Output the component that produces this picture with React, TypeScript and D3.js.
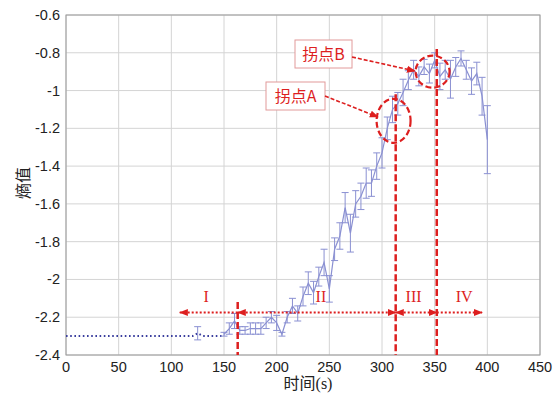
import React from "react";
import * as d3 from "d3";

// ---- data ----
const baseT = [0, 120, 125, 130, 150];
const baseV = [-2.3, -2.3, -2.285, -2.3, -2.3];
const baseErr = [0, 0, 0.035, 0, 0];

const times = [150, 155, 160, 165, 170, 175, 180, 185, 190, 195, 200, 205, 210, 215, 220, 225, 230, 235, 240, 245, 250, 255, 260, 265, 270, 275, 280, 285, 290, 295, 300, 305, 310, 315, 320, 325, 330, 335, 340, 345, 350, 355, 360, 365, 370, 375, 380, 385, 390, 395, 400];
const entropy = [-2.29, -2.26, -2.22, -2.27, -2.27, -2.26, -2.26, -2.26, -2.23, -2.2, -2.23, -2.29, -2.2, -2.14, -2.18, -2.09, -2.02, -2.07, -1.985, -1.91, -2.05, -1.84, -1.77, -1.62, -1.755, -1.6, -1.56, -1.49, -1.49, -1.4, -1.33, -1.2, -1.1, -1.07, -1.01, -0.945, -0.89, -0.925, -0.875, -0.91, -0.84, -0.925, -0.89, -0.94, -0.875, -0.83, -0.89, -0.95, -0.91, -1.03, -1.26];
const errs = [0.01, 0.03, 0.04, 0.02, 0.02, 0.03, 0.03, 0.03, 0.03, 0.03, 0.04, 0.01, 0.03, 0.04, 0.04, 0.05, 0.06, 0.06, 0.05, 0.07, 0.07, 0.06, 0.07, 0.08, 0.1, 0.07, 0.07, 0.08, 0.07, 0.07, 0.08, 0.06, 0.07, 0.06, 0.07, 0.05, 0.05, 0.05, 0.04, 0.05, 0.04, 0.07, 0.05, 0.1, 0.05, 0.04, 0.05, 0.07, 0.06, 0.1, 0.18];

const xTicks = [0, 50, 100, 150, 200, 250, 300, 350, 400, 450];
const yTicks = [-2.4, -2.2, -2, -1.8, -1.6, -1.4, -1.2, -1, -0.8, -0.6];

const boundaries = [163, 313, 352];
const boundaryTops = [-2.12, -1.02, -0.78];
const stageLabels = ["I", "II", "III", "IV"];
const stageLabelX = [133, 242, 330, 378];
const stageArrowFrom = [163, 163, 313, 352];
const stageArrowTo = [108, 313, 352, 395];
const stageArrowY = -2.175;

// ---- layout ----
const W = 557, H = 398;
const M = { left: 66, right: 17, top: 15, bottom: 43 };

export default function App() {
  const x = d3.scaleLinear().domain([0, 450]).range([M.left, W - M.right]);
  const y = d3.scaleLinear().domain([-2.4, -0.6]).range([H - M.bottom, M.top]);
  const line = d3.line<number>().x((_, i) => x(times[i])).y((d) => y(d));
  const baseLine = d3.line<number>().x((_, i) => x(baseT[i])).y((d) => y(d));

  const red = "#dd1f1f";
  const blue = "#8a90d2";

  return (
    <svg width={W} height={H} style={{ position: "absolute", left: 0, top: 0, background: "#fff" }}>
      <defs>
        <marker id="ah2" viewBox="0 0 10 10" refX="9" refY="5" markerWidth="9" markerHeight="9" orient="auto" markerUnits="userSpaceOnUse">
          <path d="M0,1 L10,5 L0,9 z" fill={red} />
        </marker>
        <marker id="ah2s" viewBox="0 0 10 10" refX="9" refY="5" markerWidth="9" markerHeight="9" orient="auto-start-reverse" markerUnits="userSpaceOnUse">
          <path d="M0,1 L10,5 L0,9 z" fill={red} />
        </marker>
      </defs>
      {/* grid */}
      {xTicks.map((t) => (
        <line key={"gx" + t} x1={x(t)} x2={x(t)} y1={y(-2.4)} y2={y(-0.6)} stroke="#d4d4d4" strokeWidth={1} />
      ))}
      {yTicks.map((t) => (
        <line key={"gy" + t} x1={x(0)} x2={x(450)} y1={y(t)} y2={y(t)} stroke="#d4d4d4" strokeWidth={1} />
      ))}
      <rect x={x(0)} y={y(-0.6)} width={x(450) - x(0)} height={y(-2.4) - y(-0.6)} fill="none" stroke="#9a9a9a" strokeWidth={1} />
      {/* tick labels */}
      {xTicks.map((t) => (
        <text key={"tx" + t} x={x(t)} y={372} textAnchor="middle" fontFamily="Liberation Sans, Arial, sans-serif" fontSize={14.5} fill="#222">{t}</text>
      ))}
      {yTicks.map((t) => (
        <text key={"ty" + t} x={60} y={y(t) + 5} textAnchor="end" fontFamily="Liberation Sans, Arial, sans-serif" fontSize={14.5} fill="#222">{t}</text>
      ))}
      {/* axis labels */}
      <text x={308} y={389} textAnchor="middle" fontFamily="Liberation Serif, Noto Sans CJK SC" fontSize={16} fill="#222">时间(s)</text>
      <text transform="translate(29,183) rotate(-90)" textAnchor="middle" fontFamily="Liberation Serif, Noto Sans CJK SC" fontSize={16} fill="#222">熵值</text>

      {/* baseline dotted */}
      <path d={baseLine(baseV) || ""} fill="none" stroke="#3a3e9e" strokeWidth={2} strokeDasharray="1.6,2.6" />
      {baseT.map((t, i) => baseErr[i] > 0 ? (
        <g key={"be" + i} stroke={blue} strokeWidth={1}>
          <line x1={x(t)} x2={x(t)} y1={y(baseV[i] - baseErr[i])} y2={y(baseV[i] + baseErr[i])} />
          <line x1={x(t) - 3.5} x2={x(t) + 3.5} y1={y(baseV[i] + baseErr[i])} y2={y(baseV[i] + baseErr[i])} />
          <line x1={x(t) - 3.5} x2={x(t) + 3.5} y1={y(baseV[i] - baseErr[i])} y2={y(baseV[i] - baseErr[i])} />
        </g>
      ) : null)}
      {/* error bars */}
      {times.map((t, i) => (
        <g key={"e" + i} stroke={blue} strokeWidth={1}>
          <line x1={x(t)} x2={x(t)} y1={y(entropy[i] - errs[i])} y2={y(entropy[i] + errs[i])} />
          <line x1={x(t) - 3.5} x2={x(t) + 3.5} y1={y(entropy[i] + errs[i])} y2={y(entropy[i] + errs[i])} />
          <line x1={x(t) - 3.5} x2={x(t) + 3.5} y1={y(entropy[i] - errs[i])} y2={y(entropy[i] - errs[i])} />
        </g>
      ))}
      <path d={line(entropy) || ""} fill="none" stroke={blue} strokeWidth={1.2} />

      {/* stage arrows */}
      {stageArrowFrom.map((f, i) => (
        <line key={"sa" + i} x1={x(f)} x2={x(stageArrowTo[i])} y1={y(stageArrowY)} y2={y(stageArrowY)}
          stroke={red} strokeWidth={2.2} strokeDasharray="2,2" markerEnd="url(#ah2)" markerStart={i === 0 || i === 3 ? undefined : "url(#ah2s)"} />
      ))}
      {stageLabels.map((s, i) => (
        <text key={"sl" + i} x={x(stageLabelX[i])} y={302} textAnchor="middle" fontFamily="Liberation Serif, serif" fontSize={16} fill={red}>{s}</text>
      ))}
      {/* boundaries */}
      {boundaries.map((b, i) => (
        <line key={"bd" + i} x1={x(b)} x2={x(b)} y1={y(boundaryTops[i])} y2={y(-2.4)} stroke={red} strokeWidth={2.5} strokeDasharray="7,3" />
      ))}
      {/* ellipses */}
      <ellipse cx={x(311)} cy={y(-1.16)} rx={17} ry={22} fill="none" stroke={red} strokeWidth={2.2} strokeDasharray="6,3" />
      <ellipse cx={x(348)} cy={y(-0.9)} rx={17} ry={16} fill="none" stroke={red} strokeWidth={2.2} strokeDasharray="6,3" />
      {/* callouts */}
      <rect x={295} y={40} width={57} height={28} fill="#fff" stroke="#e29a9a" strokeWidth={1} />
      <text x={323.5} y={60} textAnchor="middle" fontFamily="Noto Sans CJK SC, sans-serif" fontSize={16} fill={red}>拐点B</text>
      <line x1={352} y1={57} x2={415} y2={71} stroke={red} strokeWidth={1.6} strokeDasharray="4,2" markerEnd="url(#ah2)" />
      <rect x={266} y={82} width={59} height={28} fill="#fff" stroke="#e29a9a" strokeWidth={1} />
      <text x={295.5} y={102} textAnchor="middle" fontFamily="Noto Sans CJK SC, sans-serif" fontSize={16} fill={red}>拐点A</text>
      <line x1={325} y1={96} x2={378} y2={117} stroke={red} strokeWidth={1.6} strokeDasharray="4,2" markerEnd="url(#ah2)" />
    </svg>
  );
}
